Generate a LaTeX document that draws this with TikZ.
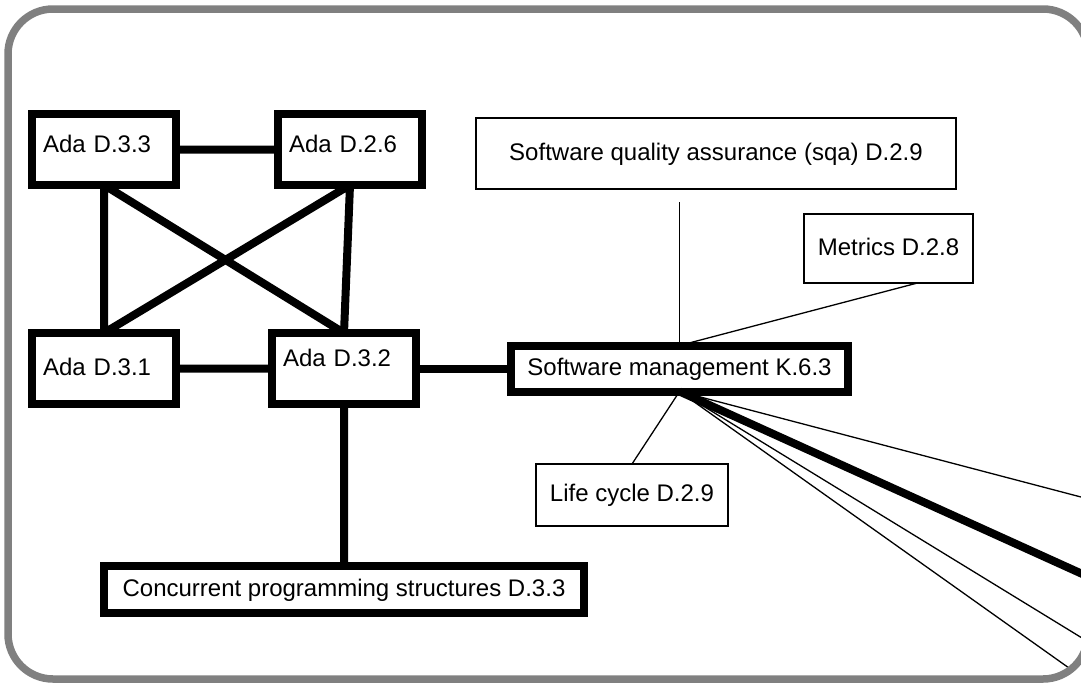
\documentclass[tikz,border=0pt]{standalone}
\usepackage{fontspec}
\setmainfont{Liberation Sans}
\usetikzlibrary{positioning}
\definecolor{framegray}{RGB}{128,128,128}

\begin{document}
\begin{tikzpicture}[x=1pt,y=-1pt,
    box/.style={draw,line width=8pt,outer sep=0pt,minimum width=144pt,minimum height=71pt,
        font=\fontsize{24}{28}\selectfont,text height=17pt,text depth=4pt},
    ada/.style={box,align=left,text width=122pt,inner xsep=11pt},
    note/.style={box,line width=1.5pt},
    heavy/.style={line width=8pt},
    light/.style={line width=1.3pt}]

            \useasboundingbox (0,0) rectangle (1081,683);

            \node[ada,text depth=12pt] (d33) at (104,149.5) {Ada D.3.3};

            \node[ada,text depth=12pt] (d26) [right=102pt of d33] {Ada D.2.6};

            \node[ada] (d31) [below=148pt of d33] {Ada D.3.1};

            \node[ada,text depth=22pt] (d32) [right=96pt of d31] {Ada D.3.2};

            \node[box,minimum width=480pt,minimum height=47pt] (conc) [below=162pt of d32] {Concurrent programming structures D.3.3};

            \node[box,minimum width=337pt,minimum height=46pt] (sm) [right=95pt of d32] {Software management K.6.3};

            \node[note,minimum width=480pt] (sqa) at (716,153.5) {Software quality assurance (sqa) D.2.9};

            \node[note,minimum width=169pt,minimum height=69pt] (metrics) at (888.5,248.5) {Metrics D.2.8};

            \node[note,minimum width=192pt,minimum height=62pt] (life) at (632,495) {Life cycle D.2.9};

            

            \draw[heavy] (d33) -- (d26)

                         (d31) -- (d32)

                         (d33.south) -- (d31.north)

                         (d33.south) -- (d32.north)

                         (d26.south) -- (d31.north)

                         (d26.south) -- (d32.north)

                         (d32.south) -- (d32.south |- conc.north);

            \draw[heavy,shorten <=4pt] (d32) -- (sm);

            

            \draw[light,shorten >=13pt] (sm.north) -- (sm.north |- sqa.south);

            \draw[light] (metrics.-50) -- (sm.north)

                         (sm.south) -- (life.north);

            

            \coordinate (e1) at (1100,502);

            \coordinate (e2) at (1100,582);

            \coordinate (e3) at (1100,649);

            \coordinate (e4) at (1100,690);

            \begin{scope}

            \clip[rounded corners=45pt] (8,9) rectangle (1088,679);

            \draw[light] (sm.south) -- (e1)

                         (sm.south) -- (e3)

                         (sm.south) -- (e4);

            \draw[heavy] (sm.south) -- (e2);

            \end{scope}

            

            \draw[framegray,line width=7.5pt,rounded corners=45pt] (8,9) rectangle (1088,679);

\end{tikzpicture}
\end{document}
